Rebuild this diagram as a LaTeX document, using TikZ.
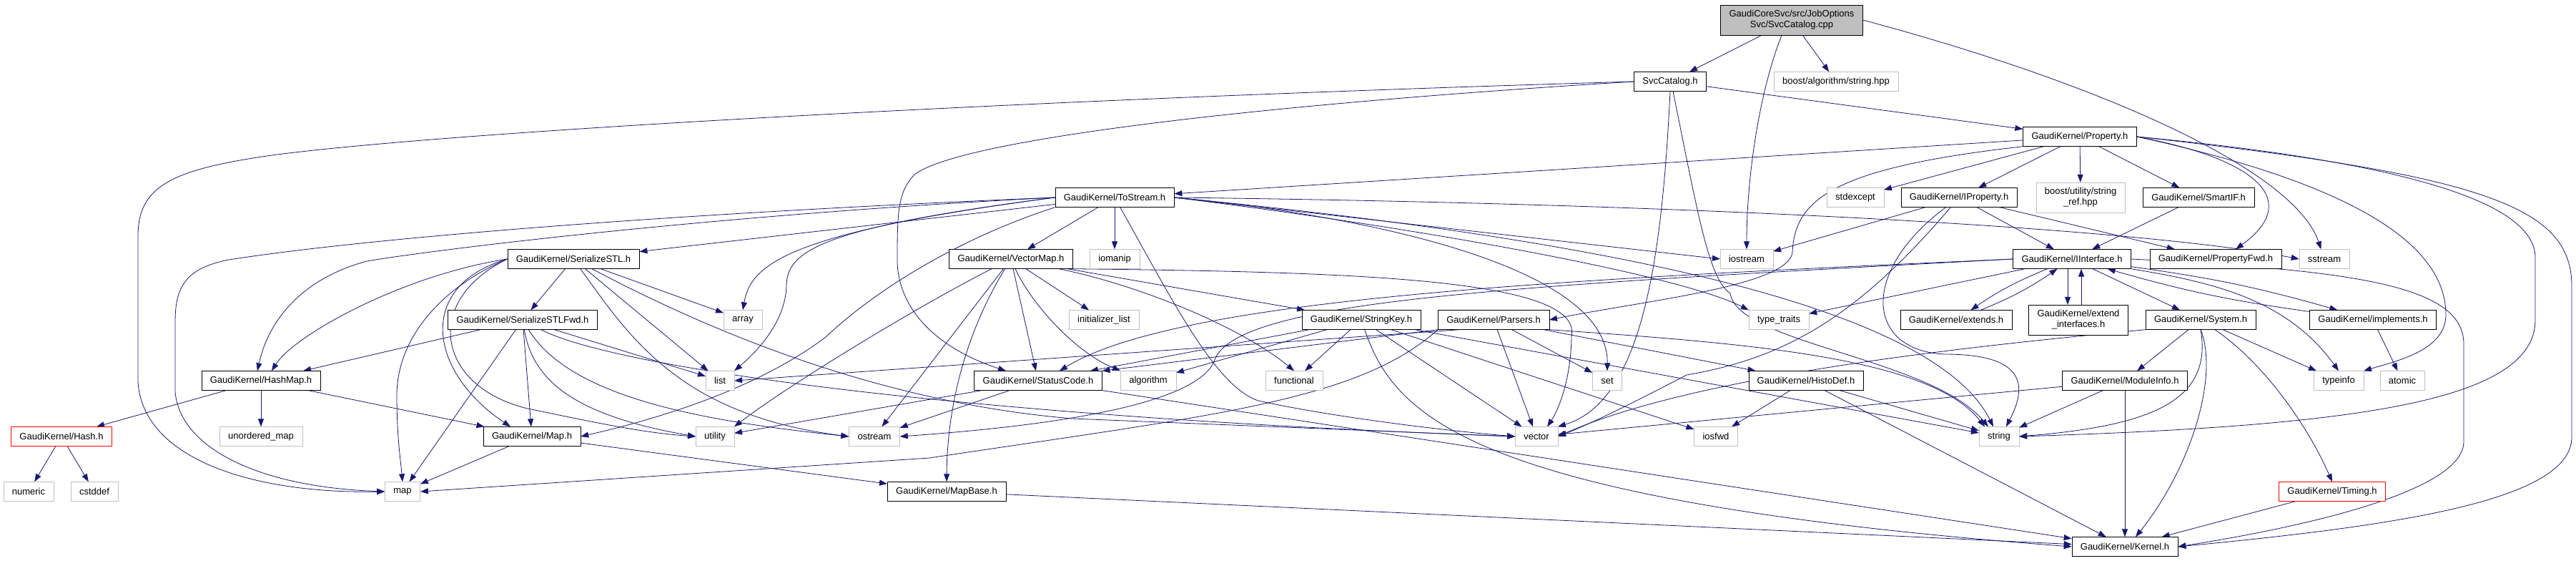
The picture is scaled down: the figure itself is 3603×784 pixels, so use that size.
\documentclass[tikz,border=0pt]{standalone}
\usepackage{fontspec}
\setmainfont{Liberation Sans}
\usetikzlibrary{arrows.meta,backgrounds}
\definecolor{edgeblue}{HTML}{191970}
\definecolor{sysgray}{HTML}{BFBFBF}

\begin{document}
\begin{tikzpicture}[x=1pt,y=-1pt,
  every node/.style={draw,fill=white,align=center,font=\fontsize{13}{15}\selectfont,
                     inner xsep=12pt,inner ysep=0pt,minimum height=27pt},
  sys/.style={draw=sysgray},
  redbox/.style={draw=red},
  rootbox/.style={fill=sysgray,minimum height=42pt},
  twoline/.style={minimum height=42pt},
  dep/.style={-{Triangle[length=11pt,width=8pt]},draw=edgeblue,line width=0.8pt}]
\useasboundingbox (0,0) rectangle (3603,784);

\node (root)      [rootbox] at (2506,28)  {GaudiCoreSvc/src/JobOptions\\Svc/SvcCatalog.cpp};
\node (svccat)              at (2336,114) {SvcCatalog.h};
\node (boostalg)  [sys]     at (2568,114) {boost/algorithm/string.hpp};
\node (prop)                at (2909,191) {GaudiKernel/Property.h};
\node (tostream)            at (1559,276) {GaudiKernel/ToStream.h};
\node (stdexcept) [sys]     at (2595,276) {stdexcept};
\node (iprop)               at (2740,276) {GaudiKernel/IProperty.h};
\node (strref)    [sys,twoline] at (2910,276) {boost/utility/string\\\_ref.hpp};
\node (smartif)             at (3075,276) {GaudiKernel/SmartIF.h};
\node (serial)              at (802,362)  {GaudiKernel/SerializeSTL.h};
\node (vecmap)              at (1414,362) {GaudiKernel/VectorMap.h};
\node (iomanip)   [sys]     at (1559,362) {iomanip};
\node (iostream)  [sys]     at (2443,362) {iostream};
\node (iiface)              at (2898,362) {GaudiKernel/IInterface.h};
\node (propfwd)             at (3099,362) {GaudiKernel/PropertyFwd.h};
\node (sstream)   [sys]     at (3251,362) {sstream};
\node (serialfwd)           at (731,447)  {GaudiKernel/SerializeSTLFwd.h};
\node (array)     [sys]     at (1039,447) {array};
\node (initlist)  [sys]     at (1544,447) {initializer\_list};
\node (strkey)              at (1904,447) {GaudiKernel/StringKey.h};
\node (parsers)             at (2089,447) {GaudiKernel/Parsers.h};
\node (typetr)    [sys]     at (2488,447) {type\_traits};
\node (extends)             at (2736,447) {GaudiKernel/extends.h};
\node (extif)     [twoline] at (2907,447) {GaudiKernel/extend\\\_interfaces.h};
\node (system)              at (3078,447) {GaudiKernel/System.h};
\node (implements)          at (3319,447) {GaudiKernel/implements.h};
\node (hashmap)             at (365,532)  {GaudiKernel/HashMap.h};
\node (list)      [sys]     at (1007,532) {list};
\node (status)              at (1452,532) {GaudiKernel/StatusCode.h};
\node (algorithm) [sys]     at (1606,532) {algorithm};
\node (functional)[sys]     at (1810,532) {functional};
\node (set)       [sys]     at (2248,532) {set};
\node (histodef)            at (2526,532) {GaudiKernel/HistoDef.h};
\node (modinfo)             at (2972,532) {GaudiKernel/ModuleInfo.h};
\node (typeinfo)  [sys]     at (3271,532) {typeinfo};
\node (atomic)    [sys]     at (3360,532) {atomic};
\node (hash)      [redbox]  at (86,610)   {GaudiKernel/Hash.h};
\node (unordmap)  [sys]     at (365,610)  {unordered\_map};
\node (mapgk)               at (744,610)  {GaudiKernel/Map.h};
\node (utility)   [sys]     at (1000,610) {utility};
\node (ostream)   [sys]     at (1223,610) {ostream};
\node (vector)    [sys]     at (2149,610) {vector};
\node (iosfwd)    [sys]     at (2400,610) {iosfwd};
\node (string)    [sys]     at (2796,610) {string};
\node (numeric)   [sys]     at (40,687)   {numeric};
\node (cstddef)   [sys]     at (132,687)  {cstddef};
\node (map)       [sys]     at (563,687)  {map};
\node (mapbase)             at (1324,687) {GaudiKernel/MapBase.h};
\node (timing)    [redbox]  at (3262,687) {GaudiKernel/Timing.h};
\node (kernel)              at (2972,764) {GaudiKernel/Kernel.h};

\begin{scope}[on background layer]
\draw[dep] (root) -- (svccat);
\draw[dep] (root) -- (boostalg);
\draw[dep] ([xshift=-14pt]root.south) .. controls (2460,130) and (2443,250) .. (iostream);
\draw[dep] (root.east) .. controls (2950,120) and (3210,240) .. (sstream);

\draw[dep] (svccat) -- (prop);
\draw[dep] (svccat.west) .. controls (1700,150) and (1330,200) .. (1278,245)
           .. controls (1255,270) and (1255,300) .. (1255,367)
           .. controls (1258,440) and (1320,490) .. ([xshift=-45pt]status.north);
\draw[dep] (svccat.west) .. controls (1400,140) and (620,185) .. (380,217)
           .. controls (240,237) and (193,260) .. (193,330) -- (193,534)
           .. controls (200,640) and (350,690) .. (map.west);
\draw[dep] (svccat.south) .. controls (2325,350) and (2300,560) .. (vector.north east);
\draw[dep] ([xshift=4pt]svccat.south) .. controls (2375,300) and (2390,390) .. (2420,410)
           .. controls (2430,480) and (2700,500) .. ([xshift=-15pt]string.north);

\draw[dep] (prop) -- (tostream);
\draw[dep] (prop) -- (stdexcept);
\draw[dep] (prop) -- (iprop);
\draw[dep] (prop) -- (strref);
\draw[dep] (prop) -- (smartif);
\draw[dep] (prop.east) .. controls (3170,225) and (3215,285) .. ([xshift=28pt]propfwd.north);
\draw[dep] (prop.east) .. controls (3260,250) and (3421,330) .. (3421,440)
           .. controls (3421,490) and (3350,505) .. (typeinfo.north east);
\draw[dep] (prop.east) .. controls (3350,225) and (3546,280) .. (3546,360) -- (3546,447)
           .. controls (3546,560) and (3300,595) .. (string.east);
\draw[dep] (prop.east) .. controls (3480,245) and (3597,290) .. (3597,400) -- (3597,611)
           .. controls (3597,700) and (3350,735) .. (kernel.east);
\draw[dep] (prop.south west) .. controls (2560,235) and (2510,280) .. (2507,353)
           .. controls (2500,400) and (2300,420) .. (parsers.east);

\draw[dep] (iprop) -- (iostream);
\draw[dep] (iprop) -- (iiface);
\draw[dep] (iprop) -- (propfwd);
\draw[dep] (iprop) .. controls (2600,380) and (2610,490) .. (2720,495)
           .. controls (2835,495) and (2835,540) .. ([xshift=10pt]string.north);
\draw[dep] (iprop) .. controls (2600,440) and (2500,500) .. (2359,524)
           .. controls (2290,560) and (2230,590) .. (vector.east);
\draw[dep] (smartif) -- (iiface);

\draw[dep] (tostream) -- (vecmap);
\draw[dep] (tostream) -- (iomanip);
\draw[dep] (tostream) -- (serial);
\draw[dep] (tostream.west) .. controls (1100,325) and (1050,370) .. (array.north);
\draw[dep] (tostream.west) .. controls (1150,318) and (1100,350) .. (1100,400)
           .. controls (1098,450) and (1060,490) .. (list.north east);
\draw[dep] (tostream.west) .. controls (900,300) and (500,335) .. (320,363)
           .. controls (260,375) and (245,400) .. (245,450) -- (245,547)
           .. controls (250,620) and (350,680) .. (map.west);
\draw[dep] (tostream.west) .. controls (1000,300) and (600,350) .. (513,365)
           .. controls (420,390) and (375,450) .. ([xshift=-5pt]hashmap.north);
\draw[dep] (tostream.south west) .. controls (1350,330) and (1230,400) .. (1155,471)
           .. controls (1050,550) and (900,590) .. (mapgk.east);
\draw[dep] (tostream) .. controls (1640,420) and (1700,540) .. (1760,560)
           .. controls (1850,580) and (2000,600) .. (vector.west);
\draw[dep] (tostream.east) .. controls (1900,300) and (2250,370) .. (set.north);
\draw[dep] (tostream.east) .. controls (2200,330) and (2700,420) .. ([xshift=-8pt]string.north);
\draw[dep] (tostream.east) .. controls (2000,320) and (2350,385) .. (typetr.north west);
\draw[dep] (tostream.east) -- (iostream.west);
\draw[dep] (tostream.east) .. controls (2400,285) and (3000,320) .. (sstream.west);

\draw[dep] (serial) -- (serialfwd);
\draw[dep] (serial) -- (array);
\draw[dep] (serial) -- (list);
\draw[dep] (serial) .. controls (880,470) and (950,580) .. (ostream.west);
\draw[dep] (serial) .. controls (950,440) and (1200,560) .. (1500,585) -- (vector.west);
\draw[dep] (serial.west) .. controls (580,400) and (600,520) .. ([xshift=-30pt]mapgk.north);
\draw[dep] (serial.west) .. controls (620,400) and (556,470) .. (555,551)
           .. controls (555,610) and (560,640) .. (map.north);
\draw[dep] (serial.west) .. controls (590,420) and (610,540) .. (738,571)
           .. controls (830,590) and (900,605) .. (utility.west);
\draw[dep] (serial.west) .. controls (560,385) and (410,470) .. ([xshift=15pt]hashmap.north);

\draw[dep] (serialfwd) -- (hashmap);
\draw[dep] (serialfwd) -- (map);
\draw[dep] (serialfwd) -- (mapgk);
\draw[dep] (serialfwd) -- (list);
\draw[dep] (serialfwd) .. controls (745,530) and (800,580) .. (utility.west);
\draw[dep] (serialfwd) .. controls (800,560) and (1000,590) .. (ostream.west);
\draw[dep] (serialfwd) .. controls (850,510) and (1300,580) .. (vector.west);

\draw[dep] (hashmap) -- (hash);
\draw[dep] (hashmap) -- (unordmap);
\draw[dep] (hashmap) -- (mapgk);
\draw[dep] (hash) -- (numeric);
\draw[dep] (hash) -- (cstddef);
\draw[dep] (mapgk) -- (map);
\draw[dep] (mapgk) -- (mapbase);

\draw[dep] (vecmap) -- (initlist);
\draw[dep] (vecmap) -- (status);
\draw[dep] (vecmap) .. controls (1440,420) and (1500,490) .. (algorithm.north west);
\draw[dep] (vecmap) .. controls (1600,400) and (1740,460) .. (functional.north);
\draw[dep] (vecmap) -- (strkey);
\draw[dep] (vecmap) .. controls (1360,450) and (1325,550) .. (mapbase.north);
\draw[dep] (vecmap) -- (ostream);
\draw[dep] (vecmap) .. controls (1280,430) and (1100,540) .. (utility.north east);
\draw[dep] (vecmap.south east) .. controls (1900,380) and (2215,390) .. (2198,470)
           .. controls (2197,540) and (2175,580) .. ([xshift=15pt]vector.north);

\draw[dep] (status) -- (ostream);
\draw[dep] (status) -- (utility);
\draw[dep] (status) -- (kernel);
\draw[dep] (mapbase) -- (kernel);

\draw[dep] (strkey) -- (status);
\draw[dep] (strkey) -- (algorithm);
\draw[dep] (strkey) -- (functional);
\draw[dep] (strkey) -- (vector);
\draw[dep] (strkey) -- (iosfwd);
\draw[dep] (strkey) -- (string);
\draw[dep] (strkey) .. controls (1950,580) and (2050,700) .. (kernel.west);

\draw[dep] ([xshift=30pt]parsers.south west) -- (list.east);
\draw[dep] (parsers.south west) .. controls (1900,560) and (1700,580) .. (1300,640) -- (map.east);
\draw[dep] (parsers.south west) -- (status.north east);
\draw[dep] (parsers) -- (vector);
\draw[dep] (parsers) -- (set);
\draw[dep] (parsers.south east) .. controls (2450,480) and (2700,500) .. ([xshift=-20pt]string.north);
\draw[dep] (parsers) -- (histodef);

\draw[dep] (histodef) -- (iosfwd);
\draw[dep] (histodef) -- (string);
\draw[dep] (histodef) -- (kernel);

\draw[dep] (iiface) -- (typetr);
\draw[dep] (iiface) to[bend right=6] (extends);
\draw[dep] (extends) to[bend right=6] (iiface);
\draw[dep] ([xshift=-6pt]iiface.south) -- ([xshift=-15pt]extif.north);
\draw[dep] ([xshift=4pt]extif.north) -- ([xshift=13pt]iiface.south);
\draw[dep] (iiface) -- (system);
\draw[dep] (iiface) to[bend left=4] (implements);
\draw[dep] (implements) to[bend left=4] (iiface);
\draw[dep] (iiface.south east) .. controls (3100,395) and (3200,420) .. (typeinfo.north);
\draw[dep] (iiface.east) .. controls (3300,378) and (3446,400) .. (3446,481) -- (3446,617)
           .. controls (3446,690) and (3200,740) .. (kernel.east);
\draw[dep] (iiface.west) .. controls (2200,390) and (1650,415) .. ([xshift=30pt]status.north);
\draw[dep] (iiface.west) .. controls (2100,400) and (1740,420) .. (1700,500)
           .. controls (1680,575) and (1400,600) .. (ostream.east);
\draw[dep] (implements) -- (atomic);

\draw[dep] (system) -- (modinfo);
\draw[dep] (system) -- (typeinfo);
\draw[dep] (system.south) .. controls (3105,530) and (3060,660) .. ([xshift=15pt]kernel.north);
\draw[dep] (system) .. controls (3170,510) and (3230,600) .. (timing.north);
\draw[dep] (system.south) .. controls (3095,560) and (3010,595) .. (string.east);
\draw[dep] (system.south west) .. controls (2800,480) and (2380,520) .. (vector.east);

\draw[dep] (modinfo) -- (vector);
\draw[dep] (modinfo) -- (string);
\draw[dep] (modinfo) -- (kernel);
\draw[dep] (timing) -- (kernel);
\end{scope}
\end{tikzpicture}
\end{document}
